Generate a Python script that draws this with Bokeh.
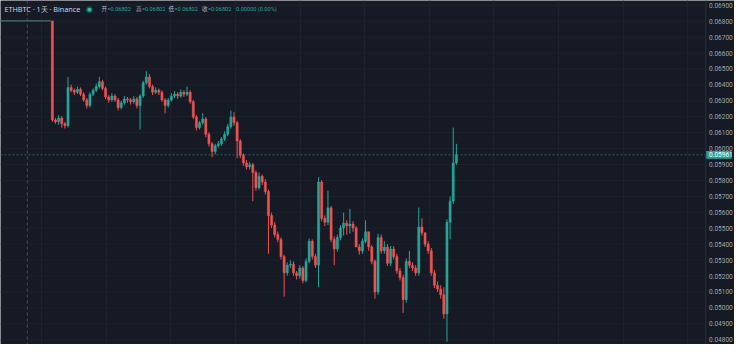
from bokeh.plotting import figure
from bokeh.models import Range1d, FixedTicker, Span, Label, ColumnDataSource
from bokeh.core.properties import value
from bokeh.embed import file_html
from bokeh.resources import INLINE

# ---------------- data ----------------
symbol_title = "ETHBTC · 1天 · Binance"
flat_price = 0.06802
n_flat = 17
ohlc_names = ["开", "高", "低", "收"]
ohlc_values = ["=0.06802", "=0.06802", "=0.06802", "=0.06802"]
change_text = "0.00000 (0.00%)"
last_price = 0.05961

close_real = [
    0.0618, 0.06168, 0.06192, 0.06156, 0.06144, 0.06384, 0.06366, 0.06354, 0.06372, 0.06342,
    0.06306, 0.0627, 0.06342, 0.06366, 0.0639, 0.0642, 0.06378, 0.06324, 0.06306, 0.0633,
    0.06306, 0.06258, 0.06288, 0.06312, 0.06306, 0.06294, 0.06312, 0.0627, 0.0633, 0.06414,
    0.0645, 0.0639, 0.06354, 0.06366, 0.06354, 0.06306, 0.0627, 0.06306, 0.0633, 0.06342,
    0.0633, 0.06354, 0.06342, 0.06354, 0.06294, 0.06198, 0.06132, 0.06162, 0.06186, 0.0609,
    0.0603, 0.05982, 0.06018, 0.0603, 0.0606, 0.0609, 0.06138, 0.06198, 0.06162, 0.06048,
    0.05958, 0.0591, 0.05886, 0.05898, 0.0585, 0.05754, 0.05826, 0.0579, 0.0573, 0.0558,
    0.0552, 0.0546, 0.0543, 0.05322, 0.0522, 0.05268, 0.05274, 0.0522, 0.05202, 0.0525,
    0.05172, 0.05292, 0.05418, 0.05322, 0.05268, 0.0579, 0.05562, 0.05538, 0.05628, 0.0543,
    0.0537, 0.05442, 0.05502, 0.05532, 0.05514, 0.05526, 0.05502, 0.05382, 0.05358, 0.05418,
    0.05478, 0.05382, 0.05292, 0.051, 0.05442, 0.05358, 0.05382, 0.0528, 0.0537, 0.05322,
    0.05232, 0.0519, 0.05052, 0.05292, 0.05268, 0.0525, 0.0522, 0.05508, 0.05472, 0.054,
    0.05358, 0.0522, 0.05142, 0.05118, 0.05082, 0.04962, 0.05538, 0.0567, 0.0591, 0.05961,
]
high_real = [
    0.06802, 0.06192, 0.0621, 0.06204, 0.06168, 0.0645, 0.06402, 0.06378, 0.0639, 0.06384,
    0.06354, 0.06318, 0.06354, 0.06378, 0.06408, 0.0645, 0.06432, 0.0639, 0.06336, 0.06348,
    0.06342, 0.06318, 0.063, 0.0633, 0.06324, 0.06318, 0.0633, 0.06324, 0.06342, 0.06426,
    0.06486, 0.06468, 0.06402, 0.06384, 0.06378, 0.06366, 0.06318, 0.06318, 0.06348, 0.0636,
    0.06354, 0.06372, 0.06366, 0.0639, 0.06366, 0.06306, 0.0621, 0.06174, 0.06222, 0.06198,
    0.06102, 0.06042, 0.0603, 0.06048, 0.06072, 0.06108, 0.06156, 0.0624, 0.06228, 0.06174,
    0.0606, 0.0597, 0.05928, 0.05916, 0.0591, 0.05862, 0.0585, 0.05838, 0.05808, 0.05742,
    0.05598, 0.05538, 0.05478, 0.05442, 0.05334, 0.05286, 0.05298, 0.05292, 0.05232, 0.05268,
    0.05262, 0.0531, 0.05436, 0.0543, 0.0534, 0.0582, 0.05802, 0.0558, 0.05736, 0.0564,
    0.05448, 0.0546, 0.0552, 0.05598, 0.0555, 0.05622, 0.05544, 0.05514, 0.054, 0.05436,
    0.0555, 0.0546, 0.05394, 0.05304, 0.05466, 0.0546, 0.05418, 0.054, 0.05388, 0.05388,
    0.0534, 0.0525, 0.05208, 0.0531, 0.05358, 0.05286, 0.05268, 0.0563, 0.05562, 0.0546,
    0.05418, 0.05376, 0.05238, 0.05166, 0.05142, 0.0513, 0.05556, 0.057, 0.06132, 0.0603,
]
low_real = [
    0.06168, 0.06156, 0.0615, 0.06132, 0.06126, 0.06132, 0.06354, 0.06336, 0.06342, 0.0633,
    0.06294, 0.06252, 0.06258, 0.0633, 0.06354, 0.06378, 0.06366, 0.06312, 0.06288, 0.06294,
    0.06294, 0.0624, 0.06246, 0.06276, 0.06288, 0.06276, 0.06282, 0.06252, 0.0612, 0.06318,
    0.06402, 0.06378, 0.06336, 0.06342, 0.06336, 0.06294, 0.06222, 0.06258, 0.06294, 0.06318,
    0.06312, 0.06318, 0.06324, 0.0633, 0.06282, 0.06186, 0.06114, 0.0612, 0.0615, 0.06072,
    0.06012, 0.05946, 0.05964, 0.06006, 0.06018, 0.06048, 0.06078, 0.06126, 0.06144, 0.0594,
    0.0594, 0.05892, 0.05868, 0.05868, 0.0567, 0.05736, 0.05742, 0.05772, 0.05712, 0.0534,
    0.05502, 0.05442, 0.05412, 0.05304, 0.0507, 0.05202, 0.0525, 0.05202, 0.05178, 0.05184,
    0.05154, 0.0516, 0.0528, 0.05304, 0.0525, 0.0513, 0.05544, 0.05514, 0.0552, 0.05412,
    0.05268, 0.05352, 0.05424, 0.05454, 0.0546, 0.05466, 0.05478, 0.05394, 0.05334, 0.0534,
    0.05406, 0.05358, 0.05274, 0.05058, 0.05082, 0.0534, 0.0534, 0.05262, 0.05262, 0.05304,
    0.05214, 0.05172, 0.04968, 0.05034, 0.0525, 0.05232, 0.05202, 0.05202, 0.05454, 0.05382,
    0.0534, 0.05202, 0.05124, 0.051, 0.05058, 0.04932, 0.04788, 0.0543, 0.05652, 0.05898,
]
price_ticks = [0.048, 0.049, 0.050, 0.051, 0.052, 0.053, 0.054, 0.055, 0.056, 0.057, 0.058,
               0.059, 0.060, 0.061, 0.062, 0.063, 0.064, 0.065, 0.066, 0.067, 0.068, 0.069]
crosshair_bar = 9
vgrid_bars = [13.6, 34.2, 54.8, 75.4, 96.3, 116.7, 137.3, 157.9, 178.6, 199.4, 219.7]

# ---------------- layout / style ----------------
BG = "#161a25"
GRID = "#1e222d"
UP = "#26a69a"
DOWN = "#ef5350"
W, H = 734, 344
X_START, X_END = 0.44, 234.81      # bar-index range across the full width
SCALE_X = 225.66                   # where the price scale begins
LABEL_X = 226.7                    # left edge of the price labels
TAG_HALF = 0.00024                 # half height of the last-price tag

close_all = [flat_price] * n_flat + close_real
high_all = [flat_price] * n_flat + high_real
low_all = [flat_price] * n_flat + low_real
open_all = [flat_price] + close_all[:-1]
xs = list(range(len(close_all)))

flat = dict(x=[], x0=[], x1=[], y=[])
cndl = dict(x=[], top=[], bottom=[], high=[], low=[], color=[])
for i, o, h, l, c in zip(xs, open_all, high_all, low_all, close_all):
    if o == c and h == l:
        flat["x"].append(i); flat["x0"].append(i - 0.5); flat["x1"].append(i + 0.5); flat["y"].append(c)
    else:
        cndl["x"].append(i)
        cndl["top"].append(max(o, c)); cndl["bottom"].append(min(o, c))
        cndl["high"].append(h); cndl["low"].append(l)
        cndl["color"].append(UP if c >= o else DOWN)

p = figure(width=W, height=H, output_backend="svg", toolbar_location=None,
           x_range=Range1d(X_START, X_END), y_range=Range1d(0.0477, 0.0693),
           y_axis_location=None, x_axis_location=None,
           background_fill_color=BG, border_fill_color=BG, outline_line_color=None,
           min_border_left=0, min_border_top=0, min_border_bottom=0, min_border_right=0)

p.ygrid.grid_line_color = None
p.xgrid.ticker = FixedTicker(ticks=vgrid_bars)
p.xgrid.grid_line_color = GRID

# horizontal grid lines (chart pane only)
p.segment(x0=[X_START] * len(price_ticks), x1=[SCALE_X] * len(price_ticks),
          y0=price_ticks, y1=price_ticks, line_color=GRID, line_width=1)

# price scale
p.add_layout(Span(location=SCALE_X, dimension="height", line_color="#2a2e39", line_width=1))
p.text(x=[LABEL_X] * len(price_ticks), y=price_ticks,
       text=["%.5f" % t for t in price_ticks], text_font=value("Roboto"),
       text_font_size="6.5px", text_color="#a3a6af", text_baseline="middle", text_align="left")

# crosshair + last price line
p.add_layout(Span(location=crosshair_bar, dimension="height", line_color="#4a4e5a",
                  line_dash="3 3", line_width=1))
p.segment(x0=[X_START], x1=[SCALE_X], y0=[last_price], y1=[last_price],
          line_color="#2f5a57", line_dash="2 2", line_width=1)

# candles
p.segment(x0="x0", x1="x1", y0="y", y1="y", source=ColumnDataSource(flat),
          line_color="#5e8884", line_width=1)
src = ColumnDataSource(cndl)
p.segment(x0="x", x1="x", y0="low", y1="high", source=src, line_color="color", line_width=1)
p.vbar(x="x", width=0.68, top="top", bottom="bottom", source=src,
       fill_color="color", line_color="color", line_width=0.5)

# last-price tag
p.quad(left=[SCALE_X], right=[X_END - 0.9], bottom=[last_price - TAG_HALF],
       top=[last_price + TAG_HALF], fill_color=UP, line_color=None)
p.text(x=[LABEL_X], y=[last_price], text=["%.5f" % last_price], text_font=value("Roboto"),
       text_font_size="6.5px", text_color="white", text_baseline="middle", text_align="left")

# header
HY = H - 8.6
p.add_layout(Label(x=4, y=HY, x_units="screen", y_units="screen", text=symbol_title,
                   text_baseline="middle", text_font_size="7.2px",
                   text_font="Noto Sans", text_color="#d1d4dc"))
p.add_layout(Label(x=89, y=HY, x_units="screen", y_units="screen", text="●",
                   text_align="center", text_baseline="middle", text_font_size="9px",
                   text_font="DejaVu Sans", text_color="#1b4a45"))
p.add_layout(Label(x=89, y=HY, x_units="screen", y_units="screen", text="●",
                   text_align="center", text_baseline="middle", text_font_size="5px",
                   text_font="DejaVu Sans", text_color="#2bc0a6"))
x0s = [101, 135.4, 168, 201.4]
for xx, nm, vv in zip(x0s, ohlc_names, ohlc_values):
    p.add_layout(Label(x=xx, y=HY, x_units="screen", y_units="screen", text=nm,
                       text_baseline="middle", text_font_size="5.6px",
                       text_font="Noto Sans CJK SC", text_color="#b2b5be"))
    p.add_layout(Label(x=xx + 6, y=HY, x_units="screen", y_units="screen", text=vv,
                       text_baseline="middle", text_font_size="5.6px",
                       text_font="Roboto", text_color=UP))
p.add_layout(Label(x=235.6, y=HY, x_units="screen", y_units="screen", text=change_text,
                   text_baseline="middle", text_font_size="5.6px",
                   text_font="Roboto", text_color=UP))

open("out.html", "w").write(file_html(p, INLINE))
